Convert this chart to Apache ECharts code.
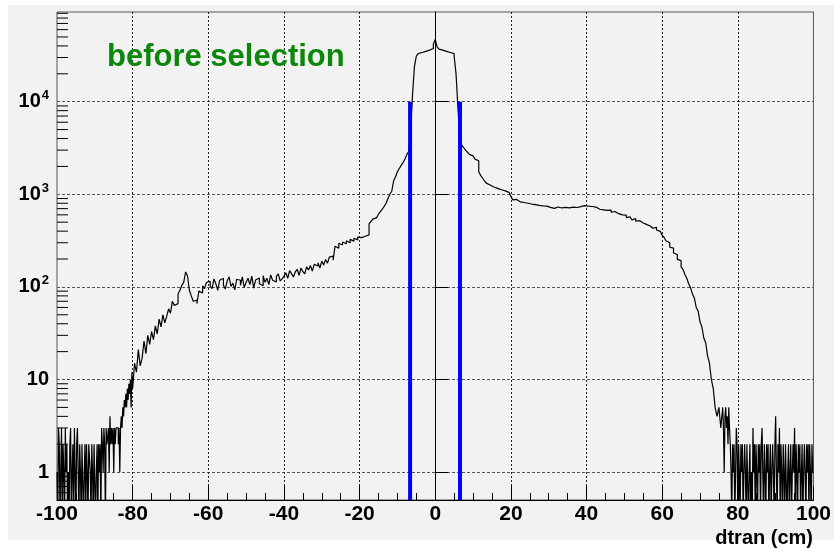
<!DOCTYPE html>
<html>
<head>
<meta charset="utf-8">
<script src="https://cdn.jsdelivr.net/npm/echarts@6/dist/echarts.min.js"></script>
<style>
html,body{margin:0;padding:0;background:#ffffff;}
#chart{width:834px;height:550px;}
</style>
</head>
<body>
<div id="chart"></div>
<script>
// ---- histogram counts (dtran, cm) ----
// left tail, 0.2 cm bins from -100 to -80
const countsFineLeft = [
  1,0,3,2,0,1,3,0,2,1, 0,3,1,2,0,1,0,2,3,0,
  1,2,0,3,1,0,2,3,1,0, 2,1,0,2,2,0,1,2,0,2,
  1,0,2,2,1,0,2,1,0,2, 2,0,1,2,0,2,1,2,0,3,
  2,1,3,2,0,3,2,2,3,1, 4,2,3,2,3,1,3,2,3,3,
  3,2,3,1,3,4,3,5,4,6, 5,7,5,8,6,9,7,10,5,12
];
// 0.5 cm bins from -80 to 76, one array per 20 cm
const countsM80toM60 = [8,15,12,21,14,17,26,19,30,24, 33,27,38,31,45,37,50,41,48,58, 52,70,63,66,84,92,104,112,145,132, 92,80,70,72,66,90,86,103,96,112];
const countsM60toM40 = [115,102,96,122,108,92,118,124,104,95, 116,128,101,110,93,121,118,104,128,99, 112,124,106,131,97,119,125,108,103,132, 112,124,106,135,118,113,130,138,116,122];
const countsM40toM20 = [130,142,124,150,139,128,145,155,133,160, 146,138,165,152,170,148,175,168,182,160, 190,172,198,180,210,215,195,275,262,296, 284,305,292,315,300,326,312,335,322,345];
const countsM20to0 = [340,348,352,358,365,480,510,540,560,580, 610,650,690,740,800,900,1000,1080,1400,1550, 1750,1900,2050,2200,2400,2700,2900,4800,12000,24000, 31000,33000,34000,34500,35000,35500,36000,36500,37500,42000];
const counts0to20 = [47000,39000,37000,36000,35500,35000,34500,34000,33500,33000, 31000,20000,8500,4200,3400,3200,3000,2850,2700,2600, 2500,2400,2300,1750,1600,1500,1400,1320,1260,1230, 1200,1180,1160,1140,1120,1100,1090,1070,1050,1090];
const counts20to40 = [950,870,880,840,830,810,815,790,800,775, 785,760,775,750,758,740,750,725,745,728, 722,735,705,715,730,700,712,690,722,705, 715,700,728,712,720,708,735,718,755,730];
const counts40to60 = [745,722,738,705,728,700,690,712,680,695, 670,660,675,640,652,626,618,640,600,588, 596,560,570,545,530,548,512,520,496,490, 505,470,478,452,462,430,440,412,398,380];
const counts60to76 = [360,342,315,300,268,262,232,224,198,192, 165,155,136,124,108,98,84,76,60,55, 42,37,28,25,18,15,10,8,5,4, 5,3];
// right tail, 0.2 cm bins from 76 to 100
const countsFineRight = [
  5,3,1,4,5,3,4,2,5,3, 2,1,0,2,1,2,0,1,3,2,
  0,2,1,0,2,1,2,0,1,2, 1,0,2,2,0,1,2,0,1,0,
  3,1,2,0,2,1,0,2,1,2, 0,2,3,1,0,2,1,0,2,1,
  2,0,1,2,0,1,2,1,0,2, 4,1,0,2,1,3,0,2,1,0,
  2,1,0,2,2,0,1,2,0,1, 2,0,1,2,1,3,0,2,1,0,
  2,1,2,0,1,2,0,1,2,1, 0,2,1,2,0,2,1,0,2,1
];

// binning of each block
const fineLeftStart = -100, fineWidth = 0.2;
const coarseStart = -80, coarseWidth = 0.5;
const fineRightStart = 76;

// axis ticks
const xMin = -100, xMax = 100, xInterval = 20;
const yMin = 0.5, yMax = 93000;
const yTickValues = [1, 10, 100, 1000, 10000];
const yTickLabels = ['1', '10', '{b|10}{sup|2}', '{b|10}{sup|3}', '{b|10}{sup|4}'];
const yMinorDecades = [0.1, 1, 10, 100, 1000, 10000];
const yMinorMultipliers = [2, 3, 4, 5, 6, 7, 8, 9];

// selection cut lines
const cutPositions = [-6.65, 6.55];
const cutTop = 10000;

const titleText = 'before selection';
const xAxisTitle = 'dtran (cm)';

// ---- build ----
const FONT = '"Liberation Sans", Arial, Helvetica, sans-serif';
const ZERO_FLOOR = 0.3; // empty bins drop below the axis (clipped)
const coarseCounts = [].concat(countsM80toM60, countsM60toM40, countsM40toM20, countsM20to0,
  counts0to20, counts20to40, counts40to60, counts60to76);
const segments = [
  { start: fineLeftStart, width: fineWidth, counts: countsFineLeft },
  { start: coarseStart, width: coarseWidth, counts: coarseCounts },
  { start: fineRightStart, width: fineWidth, counts: countsFineRight }
];
const histData = [];
let lastVal = ZERO_FLOOR, endX = xMin;
segments.forEach(seg => {
  seg.counts.forEach((c, i) => {
    lastVal = c > 0 ? c : ZERO_FLOOR;
    histData.push([+(seg.start + i * seg.width).toFixed(3), lastVal]);
  });
  endX = seg.start + seg.counts.length * seg.width;
});
histData.push([+endX.toFixed(3), lastVal]);

const minorTickData = [];
yMinorDecades.forEach(d => yMinorMultipliers.forEach(m => {
  const v = +(d * m).toPrecision(6);
  if (v > yMin && v < yMax) minorTickData.push([xMin, v]);
}));

const cutSeries = cutPositions.map(x => ({
  type: 'line',
  data: [[x, yMin], [x, cutTop]],
  showSymbol: false,
  lineStyle: { color: '#0000ff', width: 4 },
  z: 5,
  silent: true,
  animation: false
}));

function yLabel(v) {
  for (let i = 0; i < yTickValues.length; i++) {
    if (Math.abs(Math.log10(v) - Math.log10(yTickValues[i])) < 1e-6) return yTickLabels[i];
  }
  return '';
}

const chart = echarts.init(document.getElementById('chart'), null, { renderer: 'canvas' });
chart.setOption({
  animation: false,
  backgroundColor: '#ffffff',
  graphic: [
    { type: 'rect', z: -10, shape: { x: 8, y: 5, width: 826, height: 535 }, style: { fill: '#f2f2f2' }, silent: true },
    { type: 'text', z: 10, x: 107, y: 57, style: { text: titleText, fill: '#0b870b', font: 'bold 31px ' + FONT, verticalAlign: 'middle', textVerticalAlign: 'middle' } },
    { type: 'text', z: 10, x: 813, y: 538, style: { text: xAxisTitle, fill: '#000', font: 'bold 20px ' + FONT, align: 'right', textAlign: 'right', verticalAlign: 'middle', textVerticalAlign: 'middle' } }
  ],
  grid: {
    left: 57, right: 20, top: 12, bottom: 50,
    show: true, borderColor: '#555', borderWidth: 1, backgroundColor: 'transparent'
  },
  xAxis: {
    type: 'value', min: xMin, max: xMax, interval: xInterval,
    axisLine: { show: true, onZero: false, lineStyle: { color: '#000', width: 1 } },
    axisTick: { show: true, inside: true, length: 14, lineStyle: { color: '#000' } },
    minorTick: { show: true, splitNumber: 4, length: 7, lineStyle: { color: '#000' } },
    axisLabel: { color: '#000', fontSize: 21, fontWeight: 'bold', fontFamily: FONT, margin: 4 },
    splitLine: { show: true, showMinLine: false, showMaxLine: false, lineStyle: { color: '#222', type: [2, 2], width: 1 } }
  },
  yAxis: {
    type: 'log', logBase: 10, min: yMin, max: yMax,
    axisLine: { show: true, lineStyle: { color: '#000', width: 1 } },
    axisTick: { show: true, inside: true, length: 13, lineStyle: { color: '#000' } },
    axisLabel: {
      color: '#000', fontSize: 20, fontWeight: 'bold', fontFamily: FONT, margin: 8,
      showMinLabel: false, showMaxLabel: false,
      formatter: yLabel,
      rich: {
        b: { fontSize: 20, fontWeight: 'bold', fontFamily: FONT, color: '#000' },
        sup: { fontSize: 13, fontWeight: 'bold', fontFamily: FONT, color: '#000', padding: [0, 0, 12, 1] }
      }
    },
    splitLine: { show: true, showMinLine: false, showMaxLine: false, lineStyle: { color: '#555', type: [3, 2], width: 1 } }
  },
  series: [
    {
      type: 'line',
      data: histData,
      step: 'end',
      showSymbol: false,
      clip: true,
      lineStyle: { color: '#000', width: 1.2 },
      z: 3,
      silent: true,
      animation: false
    },
    ...cutSeries,
    {
      type: 'custom',
      data: minorTickData,
      silent: true,
      z: 4,
      renderItem: function (params, api) {
        const p = api.coord([api.value(0), api.value(1)]);
        return {
          type: 'line',
          shape: { x1: p[0], y1: p[1], x2: p[0] + 11, y2: p[1] },
          style: { stroke: '#000', lineWidth: 1 }
        };
      },
      animation: false
    }
  ]
});
</script>
</body>
</html>
